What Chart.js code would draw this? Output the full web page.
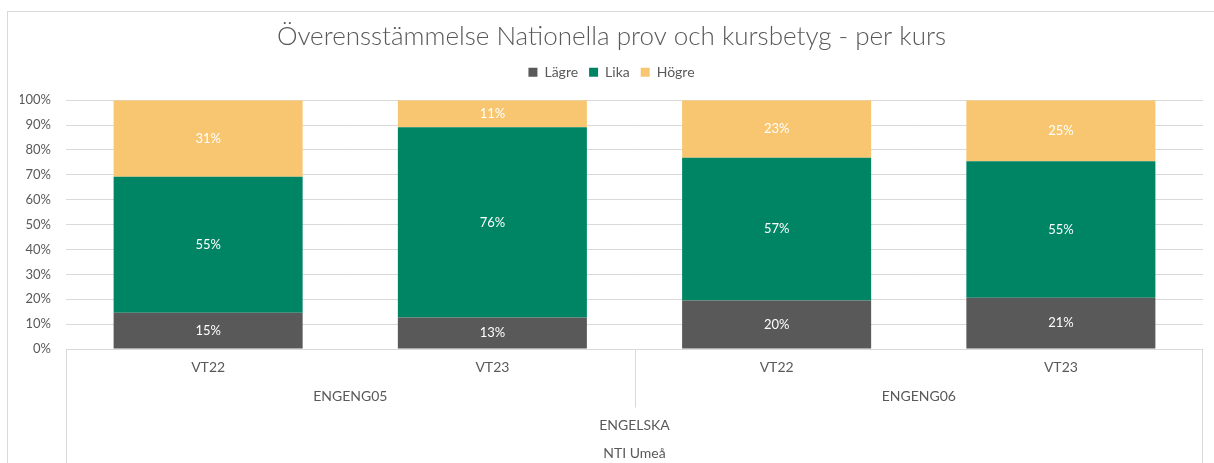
<!DOCTYPE html>
<html>
<head>
<meta charset="utf-8">
<script src="https://cdn.jsdelivr.net/npm/chart.js@4.4.1/dist/chart.umd.min.js"></script>
<style>
html,body{margin:0;padding:0;background:#fff;}
#wrap{width:1214px;height:463px;position:relative;}
</style>
</head>
<body>
<div id="wrap"><canvas id="c" width="1214" height="463"></canvas></div>
<script>
// ---- data ----
const categories = ['VT22', 'VT23', 'VT22', 'VT23'];
const courses = ['ENGENG05', 'ENGENG06'];
const courseSpan = [2, 2];
const subjectLabel = 'ENGELSKA';
const schoolLabel = 'NTI Umeå';
const lagre = [14.6, 12.7, 19.5, 20.6];
const lika  = [54.6, 76.4, 57.4, 54.9];
const hogre = [30.8, 10.9, 23.1, 24.5];
const seriesNames = ['Lägre', 'Lika', 'Högre'];
const titleText = 'Överensstämmelse Nationella prov och kursbetyg - per kurs';

const FONT = 'Lato, "DejaVu Sans", sans-serif';
const TXT = '#595959';
const GRID = '#D9D9D9';

const frame = {
  id: 'frame',
  beforeInit(chart) {
    if (chart.legend) {
      const f = chart.legend.fit;
      chart.legend.fit = function () { f.call(this); this.height += 11; };
    }
  },
  beforeDraw(chart) {
    const ctx = chart.ctx;
    ctx.save();
    ctx.fillStyle = '#fff';
    ctx.fillRect(0, 0, chart.width, chart.height);
    ctx.strokeStyle = GRID;
    ctx.lineWidth = 1;
    ctx.strokeRect(7.5, 11.5, 1210, 470);
    ctx.restore();
  }
};

const barLabels = {
  id: 'barLabels',
  afterDatasetsDraw(chart) {
    const ctx = chart.ctx;
    ctx.save();
    ctx.fillStyle = '#ffffff';
    ctx.font = '13px ' + FONT;
    ctx.textAlign = 'center';
    ctx.textBaseline = 'middle';
    chart.data.datasets.forEach((ds, di) => {
      const meta = chart.getDatasetMeta(di);
      meta.data.forEach((el, i) => {
        const y = (el.y + el.base) / 2;
        ctx.fillText(Math.round(ds.data[i]) + '%', el.x, y);
      });
    });
    ctx.restore();
  }
};

const multiAxis = {
  id: 'multiAxis',
  afterDraw(chart) {
    const ctx = chart.ctx;
    const x = chart.scales.x;
    const ca = chart.chartArea;
    const L = Math.round(ca.left) + 0.5, R = Math.round(ca.right) - 0.5, B = Math.round(ca.bottom) + 0.5;
    ctx.save();
    ctx.strokeStyle = GRID;
    ctx.lineWidth = 1;
    ctx.beginPath();
    ctx.moveTo(L, B); ctx.lineTo(R, B);
    ctx.moveTo(L, B); ctx.lineTo(L, chart.height);
    ctx.moveTo(R, B); ctx.lineTo(R, chart.height);
    let idx = 0;
    for (let g = 0; g < courses.length - 1; g++) {
      idx += courseSpan[g];
      const sx = Math.round((x.getPixelForValue(idx - 1) + x.getPixelForValue(idx)) / 2) + 0.5;
      ctx.moveTo(sx, B); ctx.lineTo(sx, B + 58);
    }
    ctx.stroke();

    ctx.fillStyle = TXT;
    ctx.font = '14px ' + FONT;
    ctx.textAlign = 'center';
    ctx.textBaseline = 'middle';
    categories.forEach((c, i) => ctx.fillText(c, x.getPixelForValue(i), B + 18));
    idx = 0;
    courses.forEach((c, g) => {
      const a = x.getPixelForValue(idx), b = x.getPixelForValue(idx + courseSpan[g] - 1);
      ctx.fillText(c, (a + b) / 2, B + 47);
      idx += courseSpan[g];
    });
    const mid = (ca.left + ca.right) / 2;
    ctx.fillText(subjectLabel, mid, B + 76);
    ctx.fillText(schoolLabel, mid, B + 104);
    ctx.restore();
  }
};

new Chart(document.getElementById('c'), {
  type: 'bar',
  data: {
    labels: categories,
    datasets: [
      { label: seriesNames[0], data: lagre, backgroundColor: '#595959' },
      { label: seriesNames[1], data: lika,  backgroundColor: '#008564' },
      { label: seriesNames[2], data: hogre, backgroundColor: '#F8C671' }
    ]
  },
  options: {
    responsive: false,
    animation: false,
    devicePixelRatio: 1,
    layout: { padding: { left: 20, right: 11, top: 21, bottom: 114 } },
    datasets: { bar: { categoryPercentage: 1, barPercentage: 0.665, borderWidth: 0 } },
    scales: {
      x: { stacked: true, display: false },
      y: {
        stacked: true, min: 0, max: 100,
        border: { display: false },
        grid: { color: GRID, lineWidth: 1, drawTicks: false },
        ticks: { stepSize: 10, color: TXT, font: { family: FONT, size: 13 }, padding: 15,
                 callback: v => v + '%' },
        afterFit: s => { s.width = 46; }
      }
    },
    plugins: {
      title: { display: true, text: titleText, color: TXT,
               font: { family: FONT, size: 26, weight: 300 }, padding: { top: 0, bottom: 2 } },
      legend: { display: true, position: 'top',
                labels: { color: TXT, boxWidth: 9, boxHeight: 9, padding: 11,
                          font: { family: FONT, size: 14 } } },
      tooltip: { enabled: false }
    }
  },
  plugins: [frame, barLabels, multiAxis]
});
</script>
</body>
</html>
